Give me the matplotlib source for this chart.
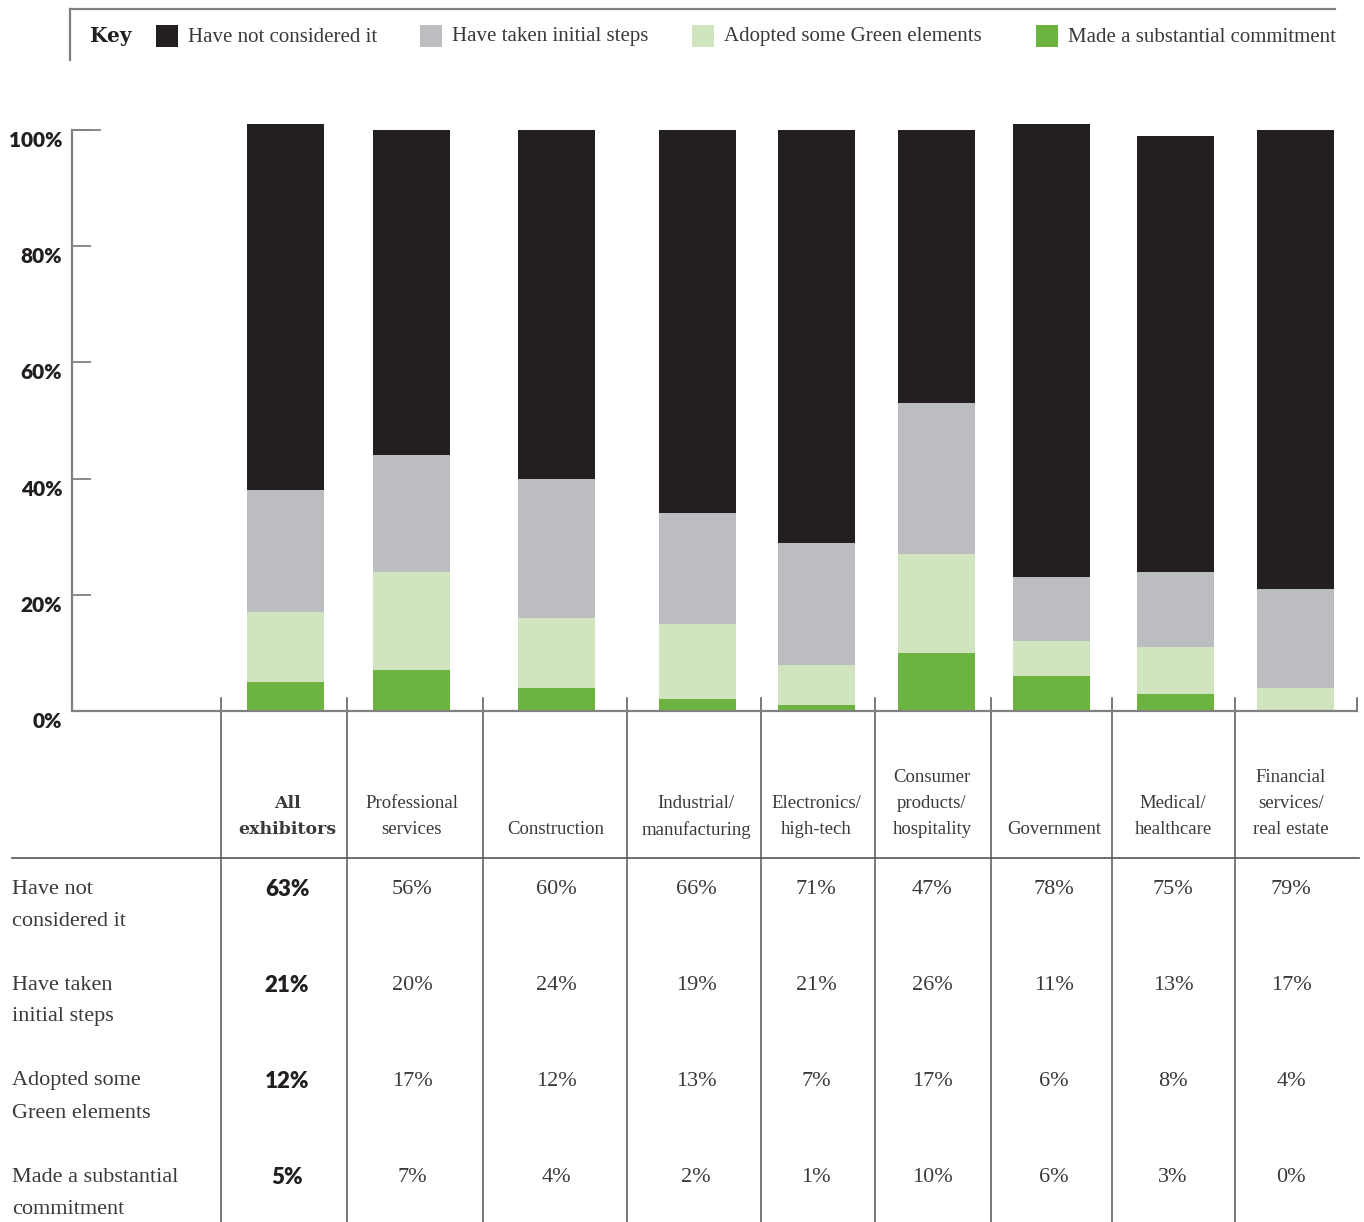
import matplotlib
matplotlib.use("Agg")
import matplotlib.pyplot as plt
from matplotlib.transforms import ScaledTranslation

# Sector survey: stage of adopting green practices
sectors = [
    "All\nexhibitors",
    "Professional\nservices",
    "Construction",
    "Industrial/\nmanufacturing",
    "Electronics/\nhigh-tech",
    "Consumer\nproducts/\nhospitality",
    "Government",
    "Medical/\nhealthcare",
    "Financial\nservices/\nreal estate",
]
series_names = [
    "Have not considered it",
    "Have taken initial steps",
    "Adopted some Green elements",
    "Made a substantial commitment",
]
row_labels = [
    "Have not\nconsidered it",
    "Have taken\ninitial steps",
    "Adopted some\nGreen elements",
    "Made a substantial\ncommitment",
]
not_considered = [63, 56, 60, 66, 71, 47, 78, 75, 79]
initial_steps = [21, 20, 24, 19, 21, 26, 11, 13, 17]
some_green = [12, 17, 12, 13, 7, 17, 6, 8, 4]
substantial = [5, 7, 4, 2, 1, 10, 6, 3, 0]
y_ticks = [0, 20, 40, 60, 80, 100]

# colours
BLACK = "#231f20"
GREY = "#bcbdc0"
LIGHT_GREEN = "#d0e5bf"
GREEN = "#6db33f"
LINE = "#808080"
TEXT = "#3a3a3a"
SERIF = "Liberation Serif"
SANS = "Lato"

W, H = 1364, 1222
# column layout in pixels
col_edges = [221, 347, 483, 627, 761, 875, 991, 1112, 1235, 1357]
bar_centers = [285, 411, 556, 697, 816, 936, 1051, 1175, 1295]
text_centers = [287, 412, 556, 696, 816, 932, 1054, 1173, 1291]
bar_w = 77
x0, x1 = 72, 1357
y_zero, y_full = 711, 130

fig = plt.figure(figsize=(W / 100, H / 100), dpi=100)

# overlay in pixel coordinates for key and table
ov = fig.add_axes([0, 0, 1, 1])
ov.set_xlim(0, W)
ov.set_ylim(H, 0)
ov.axis("off")

ax = fig.add_axes([x0 / W, 1 - y_zero / H, (x1 - x0) / W, (y_zero - y_full) / H])
ax.patch.set_alpha(0)
ax.set_xlim(x0, x1)
ax.set_ylim(0, 100)

bottom = [0] * len(sectors)
stack = [(substantial, GREEN), (some_green, LIGHT_GREEN),
         (initial_steps, GREY), (not_considered, BLACK)]
for vals, col in stack:
    ax.bar(bar_centers, vals, bottom=bottom, width=bar_w, color=col,
           linewidth=0, clip_on=False, zorder=2)
    bottom = [b + v for b, v in zip(bottom, vals)]

for side in ["top", "right"]:
    ax.spines[side].set_visible(False)
for side in ["left", "bottom"]:
    ax.spines[side].set_color(LINE)
    ax.spines[side].set_linewidth(1.6)
    ax.spines[side].set_zorder(3)
ax.set_xticks([])
ax.set_yticks(y_ticks)
ax.set_yticklabels([f"{t}%" for t in y_ticks], fontfamily=SANS,
                   fontweight="heavy", fontsize=15, color=BLACK)
ax.tick_params(axis="y", direction="in", length=14, width=1.3,
               color=LINE, pad=7)
for lbl in ax.get_yticklabels():
    lbl.set_transform(lbl.get_transform()
                      + ScaledTranslation(0, -0.09, fig.dpi_scale_trans))
# longer top tick
ax.plot([x0, x0 + 28], [100, 100], color=LINE, lw=1.3, clip_on=False)

# key
ov.plot([70, 1335], [9, 9], color=LINE, lw=1.6)
ov.plot([70, 70], [9, 60], color=LINE, lw=1.6)
ov.text(90, 36, "Key", fontfamily="DejaVu Serif", fontweight="bold",
        fontsize=14.5, color=BLACK, va="center", ha="left")
key_x = [156, 420, 692, 1036]
for kx, name, col in zip(key_x, series_names,
                         [BLACK, GREY, LIGHT_GREEN, GREEN]):
    ov.add_patch(plt.Rectangle((kx, 25), 22, 22, color=col, lw=0))
    ov.text(kx + 32, 37, name, fontfamily=SERIF, fontsize=15,
            color=TEXT, va="center", ha="left")

# column separators and header rule
for e in col_edges[:-1]:
    ov.plot([e, e], [698, H], color="#555555", lw=1.1)
ov.plot([x1, x1], [698, y_zero], color="#555555", lw=1.1)
ov.plot([12, 1359], [858, 858], color="#555555", lw=1.2)

# column headers
for i, (cx, name) in enumerate(zip(text_centers, sectors)):
    lines = name.split("\n")
    for j, ln in enumerate(reversed(lines)):
        ov.text(cx, 830 - 26 * j, ln, ha="center", va="center",
                fontsize=12.5 if i == 0 else 13.5, color=TEXT,
                fontfamily="DejaVu Serif" if i == 0 else SERIF,
                fontweight="bold" if i == 0 else "normal")

# table rows
rows = [not_considered, initial_steps, some_green, substantial]
for r, (label, vals) in enumerate(zip(row_labels, rows)):
    ry = 889 + 96 * r
    for j, ln in enumerate(label.split("\n")):
        ov.text(12, ry + 32 * j, ln, ha="left", va="center",
                fontsize=16, color=TEXT, fontfamily=SERIF)
    for i, (cx, v) in enumerate(zip(text_centers, vals)):
        if i == 0:
            ov.text(cx, ry, f"{v}%", ha="center", va="center",
                    fontsize=16, fontweight="heavy", color=BLACK,
                    fontfamily=SANS)
        else:
            ov.text(cx, ry, f"{v}%", ha="center", va="center",
                    fontsize=16, color=TEXT, fontfamily=SERIF)

fig.savefig("out.png", dpi=100)
